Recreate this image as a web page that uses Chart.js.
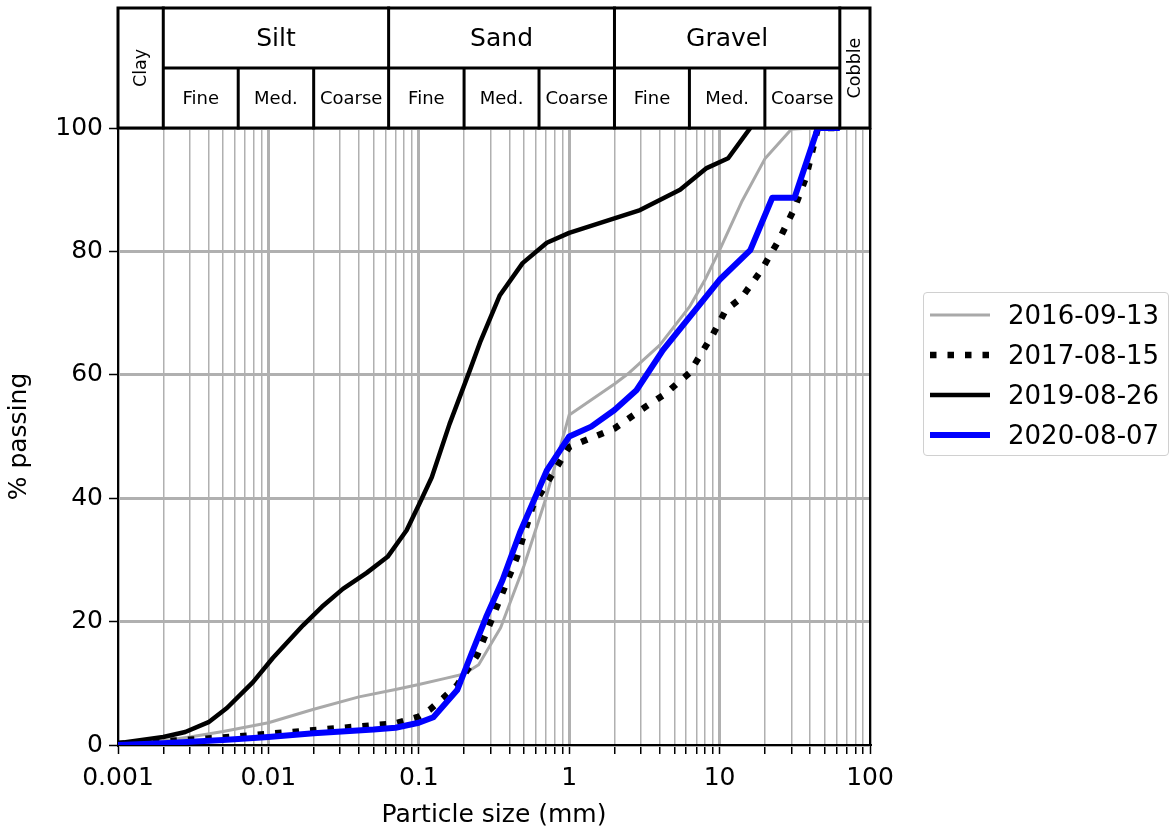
<!DOCTYPE html>
<html>
<head>
<meta charset="utf-8">
<script src="https://cdn.jsdelivr.net/npm/chart.js@4"></script>
<style>
  body { margin: 0; background: #fff; font-family: 'DejaVu Sans', sans-serif; }
  #wrap { position: relative; width: 1173px; height: 834px; }
  #legend { position: absolute; left: 923px; top: 292px; width: 246px; height: 164px;
    border: 1.5px solid #d0d0d0; border-radius: 4px; box-sizing: border-box; padding-top: 2px; }
  .row { display: flex; align-items: center; height: 40px; }
  .row svg { margin-left: 6px; margin-right: 18px; }
  .row span { font-size: 26px; color: #000; }
</style>
</head>
<body>
<div id="wrap">
  <canvas id="myChart" width="1173" height="834"></canvas>
  <div id="legend"></div>
</div>
<script>
// particle size (mm) and % passing for each sample
const size2016 = [0.001, 0.002, 0.003, 0.005, 0.01, 0.02, 0.04, 0.07, 0.1, 0.15, 0.2, 0.25, 0.35, 0.5, 0.7, 1.0, 2.0, 2.5, 4.0, 6.3, 8.0, 10, 14, 20, 30, 40];
const pass2016 = [0.2, 0.7, 1.3, 2.2, 3.6, 5.8, 7.8, 9.0, 9.8, 10.8, 11.5, 13, 19, 29, 40, 53.5, 58.5, 60.3, 64.8, 71, 75.4, 80.2, 88, 95, 99.8, 100];

const size2017 = [0.001, 0.002, 0.005, 0.01, 0.02, 0.05, 0.07, 0.1, 0.118, 0.145, 0.18, 0.245, 0.33, 0.45, 0.57, 0.75, 1.0, 2.0, 3.3, 4.3, 6.3, 9.0, 11, 14, 19, 25, 31.5, 37.5, 45, 63];
const pass2017 = [0.2, 0.6, 1.2, 1.8, 2.4, 3.2, 3.5, 4.6, 5.7, 7.6, 9.7, 14.6, 22.4, 30.5, 38.6, 43.4, 48.3, 51.3, 55, 56.8, 60.3, 66.5, 70.5, 72.5, 77, 82, 87, 92, 100, 100];

const size2019 = [0.001, 0.002, 0.0028, 0.004, 0.0053, 0.0079, 0.0107, 0.017, 0.0227, 0.0313, 0.045, 0.062, 0.083, 0.1, 0.122, 0.16, 0.219, 0.255, 0.346, 0.49, 0.71, 1.0, 2.96, 5.46, 8.2, 11.4, 16];
const pass2019 = [0.3, 1.3, 2.1, 3.7, 6.0, 10.2, 14.1, 19.4, 22.4, 25.3, 27.9, 30.5, 34.8, 38.9, 43.4, 52, 60.8, 65.2, 72.9, 78.1, 81.4, 83, 86.7, 90, 93.5, 95.1, 100];

const size2020 = [0.001, 0.002, 0.005, 0.01, 0.02, 0.05, 0.07, 0.1, 0.125, 0.18, 0.22, 0.28, 0.36, 0.47, 0.71, 1.0, 1.4, 2.0, 2.8, 4.2, 10, 16, 22.4, 31.5, 45, 63];
const pass2020 = [0, 0.3, 0.8, 1.3, 1.9, 2.5, 2.8, 3.6, 4.5, 8.9, 14.3, 20.7, 26.7, 34.4, 44.5, 50, 51.6, 54.3, 57.5, 64, 75.4, 80.2, 88.7, 88.7, 100, 100];

const sampleDates = ['2016-09-13', '2017-08-15', '2019-08-26', '2020-08-07'];

// classification header
const classNames = ['Clay', 'Silt', 'Sand', 'Gravel', 'Cobble'];
const classBounds = [0.001, 0.002, 0.063, 2, 63, 100];
const subNames = ['Fine', 'Med.', 'Coarse'];
const subBounds = [[0.002, 0.0063, 0.02, 0.063], [0.063, 0.2, 0.63, 2], [2, 6.3, 20, 63]];

const xTicks = [];
for (let e = -3; e <= 1; e++) {
	for (let m = 1; m <= 9; m++) xTicks.push(Number((m * Math.pow(10, e)).toPrecision(2)));
}
xTicks.push(100);
const yTicks = [0, 20, 40, 60, 80, 100];

function isDecade(v) {
	const l = Math.log10(v);
	return Math.abs(l - Math.round(l)) < 1e-9;
}
function pts(xs, ys) {
	return xs.map((x, i) => ({x: x, y: ys[i]}));
}

const styles = [
	{color: '#a9a9a9', width: 3, dash: []},
	{color: '#000000', width: 6.5, dash: [6.5, 11]},
	{color: '#000000', width: 4.5, dash: []},
	{color: '#0000ff', width: 6, dash: []}
];
const series = [pts(size2016, pass2016), pts(size2017, pass2017), pts(size2019, pass2019), pts(size2020, pass2020)];

const headerPlugin = {
	id: 'header',
	afterDraw(chart) {
		const c = chart.ctx;
		const xs = chart.scales.x;
		const area = chart.chartArea;
		const top = 8, mid = 68, bot = area.top;
		const px = v => xs.getPixelForValue(v);
		c.save();
		c.strokeStyle = '#000';
		c.lineWidth = 3;
		c.lineCap = 'square';
		// outer frame
		c.strokeRect(area.left, top, area.right - area.left, bot - top);
		// right axis
		c.lineWidth = 2;
		c.beginPath();
		c.moveTo(area.right, bot);
		c.lineTo(area.right, area.bottom);
		c.stroke();
		c.lineWidth = 3;
		c.beginPath();
		// class bounds
		for (let i = 1; i < classBounds.length - 1; i++) {
			c.moveTo(px(classBounds[i]), top);
			c.lineTo(px(classBounds[i]), bot);
		}
		// middle row line
		c.moveTo(px(0.002), mid);
		c.lineTo(px(63), mid);
		subBounds.forEach(b => {
			for (let j = 1; j < 3; j++) {
				c.moveTo(px(b[j]), mid);
				c.lineTo(px(b[j]), bot);
			}
		});
		c.stroke();
		c.fillStyle = '#000';
		c.textAlign = 'center';
		c.textBaseline = 'middle';
		c.font = '25px "DejaVu Sans"';
		for (let i = 1; i <= 3; i++) {
			c.fillText(classNames[i], (px(classBounds[i]) + px(classBounds[i + 1])) / 2, (top + mid) / 2 + 1);
		}
		c.font = '18px "DejaVu Sans"';
		subBounds.forEach(b => {
			for (let j = 0; j < 3; j++) {
				c.fillText(subNames[j], (px(b[j]) + px(b[j + 1])) / 2, (mid + bot) / 2 + 1);
			}
		});
		c.font = '17.5px "DejaVu Sans"';
		[[0, 0.001, 0.002], [4, 63, 100]].forEach(([k, a, b]) => {
			c.save();
			c.translate((px(a) + px(b)) / 2 + 1, (top + bot) / 2);
			c.rotate(-Math.PI / 2);
			c.fillText(classNames[k], 0, 0);
			c.restore();
		});
		c.restore();
	}
};

let ctx = document.getElementById('myChart');
let chart = new Chart(ctx, {
	type: 'scatter',
	data: {
		datasets: sampleDates.map((d, i) => ({
			label: d,
			data: series[i],
			showLine: true,
			borderColor: styles[i].color,
			backgroundColor: styles[i].color,
			borderWidth: styles[i].width,
			borderDash: styles[i].dash,
			borderCapStyle: 'butt',
			borderJoinStyle: 'round',
			pointRadius: 0,
			tension: 0,
			order: 3 - i
		}))
	},
	options: {
		responsive: false,
		animation: false,
		events: [],
		layout: {padding: {top: 128, right: 303, left: 0, bottom: 0}},
		plugins: {legend: {display: false}, tooltip: {enabled: false}},
		scales: {
			x: {
				type: 'logarithmic',
				min: 0.001,
				max: 100,
				afterBuildTicks: s => { s.ticks = xTicks.map(v => ({value: v, major: isDecade(v)})); },
				afterFit: s => { s.height = 89; },
				ticks: {
					autoSkip: false,
					maxRotation: 0,
					color: '#000',
					font: {family: 'DejaVu Sans', size: 25},
					padding: 9,
					callback: v => isDecade(v) ? String(Number(v.toPrecision(1))) : ''
				},
				grid: {
					color: '#b0b0b0',
					lineWidth: c => (c.tick && isDecade(c.tick.value)) ? 3 : 1.5,
					tickColor: '#000',
					tickWidth: 1.5,
					tickLength: 9
				},
				border: {color: '#000', width: 2},
				title: {display: true, text: 'Particle size (mm)', color: '#000', font: {family: 'DejaVu Sans', size: 25}, padding: {top: 0}}
			},
			y: {
				min: 0,
				max: 100,
				afterBuildTicks: s => { s.ticks = yTicks.map(v => ({value: v})); },
				afterFit: s => { s.width = 118; },
				ticks: {color: '#000', font: {family: 'DejaVu Sans', size: 25}, padding: 6},
				grid: {color: '#b0b0b0', lineWidth: 3, tickColor: '#000', tickWidth: 1.5, tickLength: 9},
				border: {color: '#000', width: 2},
				title: {display: true, text: '% passing', color: '#000', font: {family: 'DejaVu Sans', size: 25}, padding: {top: 4, bottom: 0}}
			}
		}
	},
	plugins: [headerPlugin]
});

// legend
const legend = document.getElementById('legend');
sampleDates.forEach((d, i) => {
	const row = document.createElement('div');
	row.classList.add('row');
	const svg = document.createElementNS('http://www.w3.org/2000/svg', 'svg');
	svg.setAttribute('width', '60');
	svg.setAttribute('height', '20');
	const ln = document.createElementNS('http://www.w3.org/2000/svg', 'line');
	ln.setAttribute('x1', '0'); ln.setAttribute('x2', '60');
	ln.setAttribute('y1', '10'); ln.setAttribute('y2', '10');
	ln.setAttribute('stroke', styles[i].color);
	ln.setAttribute('stroke-width', styles[i].width);
	if (styles[i].dash.length) ln.setAttribute('stroke-dasharray', styles[i].dash.join(' '));
	svg.appendChild(ln);
	const txt = document.createElement('span');
	txt.innerText = d;
	row.appendChild(svg);
	row.appendChild(txt);
	legend.appendChild(row);
});
</script>
</body>
</html>
